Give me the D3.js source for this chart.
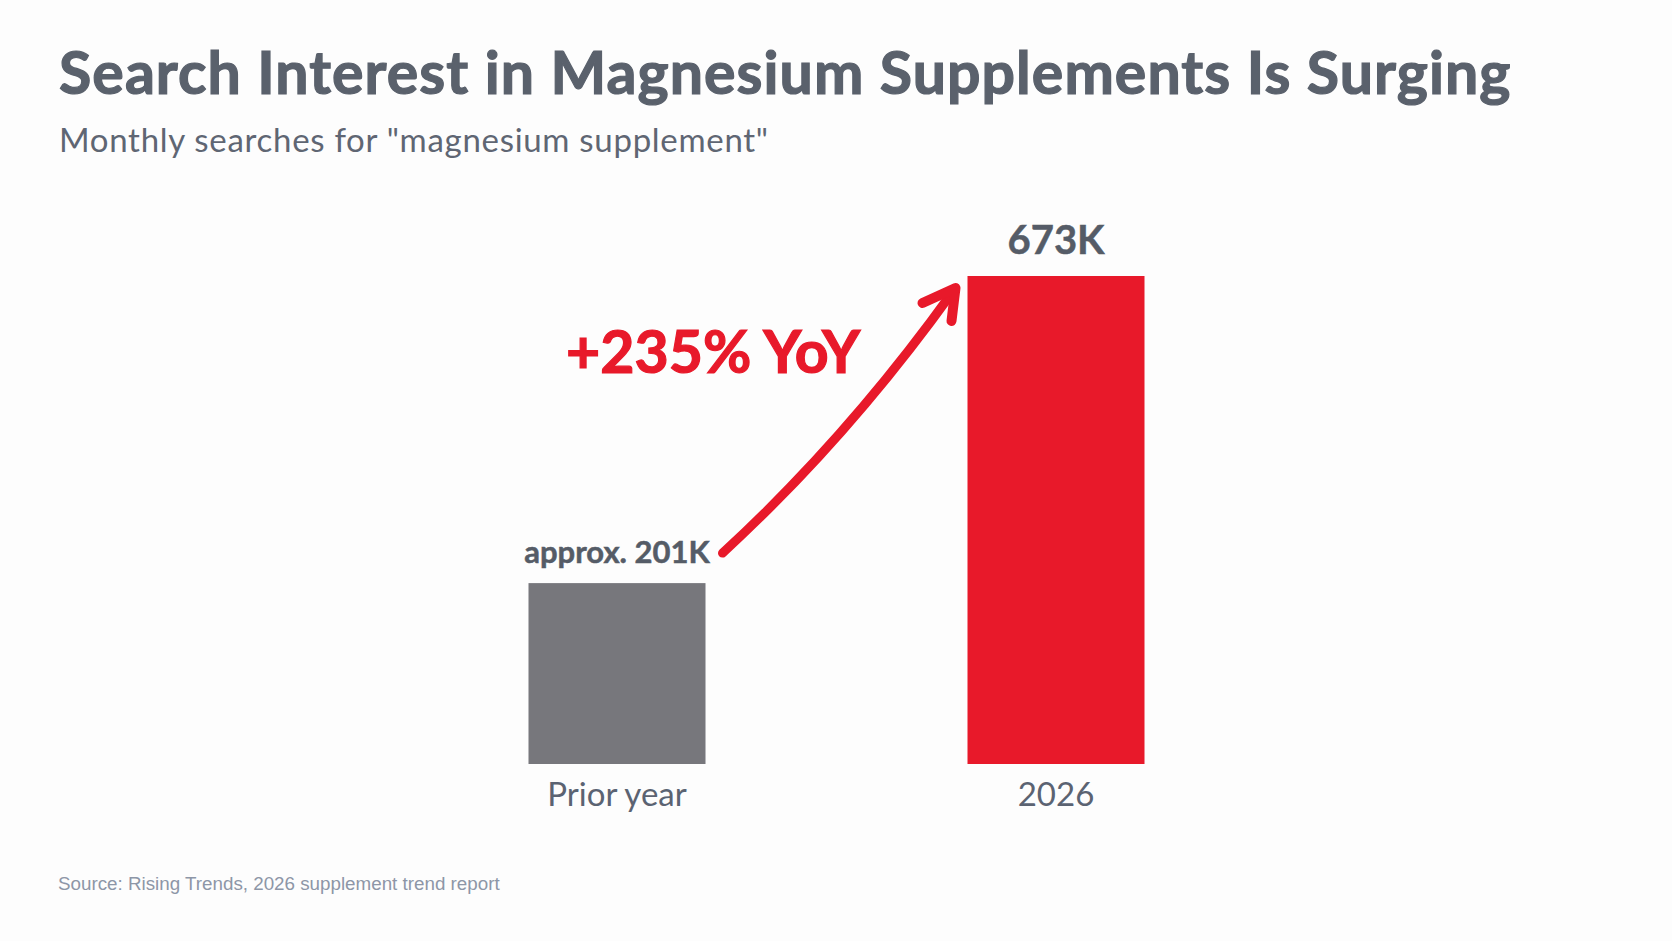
<!DOCTYPE html>
<html>
<head>
<meta charset="utf-8">
<script src="https://cdn.jsdelivr.net/npm/d3@7"></script>
<style>
  html, body { margin: 0; padding: 0; background: #fdfdfd; }
  svg { display: block; }
</style>
</head>
<body>
<div class="graph"><svg></svg></div>
<script>
// data
const categories = ['Prior year', '2026']
const searchesK = [201, 673]
const valueLabels = ['approx. 201K', '673K']
const barColors = ['#77777c', '#e8192a']
const changeLabel = '+235% YoY'

const width = 1672
const height = 941

const svg = d3.select('.graph').select('svg')
  .attr('width', width)
  .attr('height', height)

svg.append('rect')
  .attr('width', width)
  .attr('height', height)
  .attr('fill', '#fdfdfd')

// headings
svg.append('text')
  .text('Search Interest in Magnesium Supplements Is Surging')
  .attr('x', 59)
  .attr('y', 94)
  .attr('fill', '#5a616c')
  .attr('stroke', '#5a616c')
  .attr('stroke-width', 1.2)
  .attr('font-family', 'Lato')
  .attr('font-weight', 700)
  .attr('font-size', 59)
  .attr('letter-spacing', 1.05)

svg.append('text')
  .text('Monthly searches for "magnesium supplement"')
  .attr('x', 59)
  .attr('y', 152)
  .attr('fill', '#5f6673')
  .attr('font-family', 'Lato')
  .attr('font-size', 33)
  .attr('letter-spacing', 0.7)

svg.append('text')
  .text('Source: Rising Trends, 2026 supplement trend report')
  .attr('x', 58)
  .attr('y', 890)
  .attr('fill', '#8d96a7')
  .attr('font-family', 'Liberation Sans')
  .attr('font-size', 18.8)

// scales: the bars in the picture sit on a baseline a little below zero
const x = d3.scalePoint()
  .domain(categories)
  .range([617, 1056])

const barWidth = 177

const y = d3.scaleLinear()
  .domain([-77, 673])
  .range([764, 276])

const g = svg.append('g').attr('id', 'bars')

g.selectAll('rect.bar')
  .data(categories)
  .join('rect')
  .attr('class', 'bar')
  .attr('x', (d) => x(d) - barWidth / 2)
  .attr('y', (d, i) => y(searchesK[i]))
  .attr('width', barWidth)
  .attr('height', (d, i) => y(-77) - y(searchesK[i]))
  .attr('fill', (d, i) => barColors[i])

// category labels under the bars
g.selectAll('text.cat')
  .data(categories)
  .join('text')
  .attr('class', 'cat')
  .text((d) => d)
  .attr('x', (d) => x(d))
  .attr('y', y(-77) + 42)
  .attr('text-anchor', 'middle')
  .attr('fill', '#5b6372')
  .attr('font-family', 'Lato')
  .attr('font-size', 33)

// value labels above the bars
const labelSizes = [31, 40]
g.selectAll('text.val')
  .data(categories)
  .join('text')
  .attr('class', 'val')
  .text((d, i) => valueLabels[i])
  .attr('x', (d) => x(d))
  .attr('y', (d, i) => y(searchesK[i]) - [20, 22][i])
  .attr('text-anchor', 'middle')
  .attr('fill', '#555c67')
  .attr('stroke', '#555c67')
  .attr('stroke-width', 0.5)
  .attr('font-family', 'Lato')
  .attr('font-weight', 700)
  .attr('font-size', (d, i) => labelSizes[i])

// growth arrow from the prior-year label to the top of the 2026 bar
const x0 = x(categories[0]) + barWidth / 2 + 17
const y0 = y(searchesK[0]) - 30
const x1 = x(categories[1]) - barWidth / 2 - 12
const y1 = y(searchesK[1]) + 12

const arrow = svg.append('g').attr('id', 'arrow')
arrow.append('path')
  .attr('d', `M${x0},${y0} Q${x0 + 125},${y0 - 115} ${x1 - 3},${y1 + 4}`)
  .attr('fill', 'none')
  .attr('stroke', '#e8192a')
  .attr('stroke-width', 9)
  .attr('stroke-linecap', 'round')

arrow.append('path')
  .attr('d', `M${x1 - 33},${y1 + 15} L${x1},${y1} L${x1 - 4},${y1 + 33}`)
  .attr('fill', 'none')
  .attr('stroke', '#e8192a')
  .attr('stroke-width', 10)
  .attr('stroke-linecap', 'round')
  .attr('stroke-linejoin', 'round')

svg.append('text')
  .text(changeLabel)
  .attr('x', 566)
  .attr('y', 373)
  .attr('fill', '#e8192a')
  .attr('stroke', '#e8192a')
  .attr('stroke-width', 1.2)
  .attr('font-family', 'Lato')
  .attr('font-weight', 700)
  .attr('font-size', 59)
</script>
</body>
</html>
